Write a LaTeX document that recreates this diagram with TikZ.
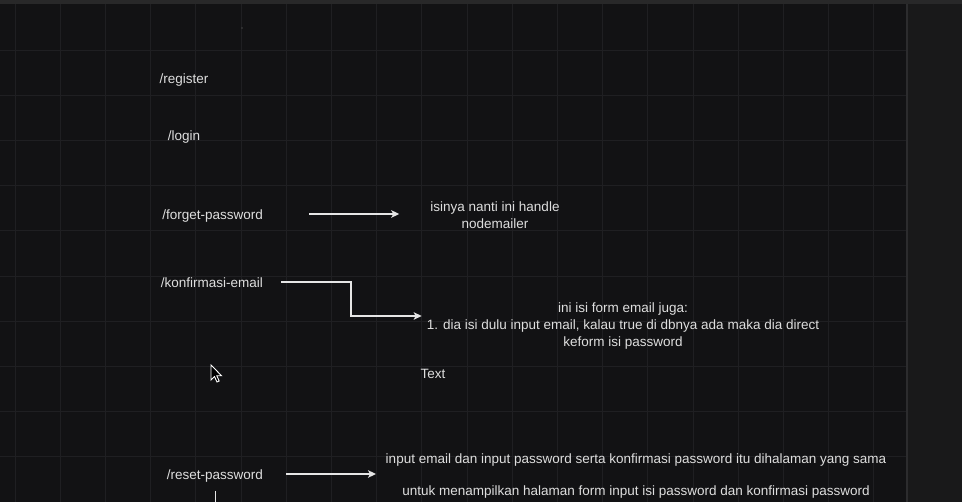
\documentclass[tikz,border=0pt]{standalone}
\usepackage{fontspec}
\setmainfont{Liberation Sans}
\usetikzlibrary{arrows.meta}
\definecolor{bg}{HTML}{121214}
\definecolor{topband}{HTML}{282829}
\definecolor{panel}{HTML}{19191A}
\definecolor{panelline}{HTML}{2C2C2E}
\definecolor{gridc}{HTML}{1F1F22}
\definecolor{txt}{HTML}{DEDEDE}
\definecolor{linec}{HTML}{E6E6E6}
\tikzset{
  lbl/.style={inner sep=0pt, text=txt, font=\fontsize{13.5}{16}\selectfont, text height=11.6pt, text depth=0.9pt},
  note/.style={inner sep=0pt, text=txt, font=\fontsize{13.5}{17}\selectfont, align=center},
  conn/.style={draw=linec, line width=1.4pt},
  arr/.style={conn, -{Stealth[length=8pt,width=7.5pt,inset=2pt]}},
  gridline/.style={draw=gridc, line width=0.9pt}
}
\begin{document}
\begin{tikzpicture}[x=1pt,y=-1pt]
\useasboundingbox (0,0) rectangle (962,502);
% background
\fill[bg] (0,0) rectangle (962,502);
\fill[topband] (0,0) rectangle (962,4.5);
\fill[panel] (907,4.5) rectangle (962,502);
% grid
\foreach \k in {0,...,19} {
  \draw[gridline] ({15+45.2*\k},4.5) -- ({15+45.2*\k},502);
}
\foreach \k in {0,...,10} {
  \draw[gridline] (0,{50+45.2*\k}) -- (906,{50+45.2*\k});
}
\draw[panelline, line width=1.6pt] (907,4.5) -- (907,502);
\fill[gray!45!bg] (242,28) circle (0.9);

% labels
\node[lbl] (reg) at (184,78) {/register};
\node[lbl] (login) at (184,135) {/login};
\node[lbl, anchor=east] (forget) at (263,214) {/forget-password};
\node[lbl, anchor=east] (konf) at (263,282) {/konfirmasi-email};
\node[lbl, anchor=east] (reset) at (263,474) {/reset-password};

\node[note] (forgetnote) at (495,215) {isinya nanti ini handle\\nodemailer};
\node[note] (konfnote) at (623,326) {ini isi form email juga:\\1. dia isi dulu input email, kalau true di dbnya ada maka dia direct\\keform isi password};
\node[lbl] (textnode) at (433,373) {Text};
\node[lbl] (resetnote1) at (636,458) {input email dan input password serta konfirmasi password itu dihalaman yang sama};
\node[lbl] (resetnote2) at (636,490) {untuk menampilkan halaman form input isi password dan konfirmasi password};

% connectors
\draw[arr] ([xshift=46pt]forget.east) -- ([xshift=-31pt,yshift=1pt]forgetnote.west);
\draw[arr] ([xshift=18pt]konf.east) -- ++(70pt,0) |- ([xshift=-5pt,yshift=10pt]konfnote.west);
\draw[arr] ([xshift=23pt]reset.east) -- ++(90pt,0);
\coordinate (resetdown) at ([xshift=1pt,yshift=-17pt]reset.center);
\draw[conn] (resetdown) -- ++(0,-14pt);

% mouse cursor
\begin{scope}[shift={(211,365)}]
\filldraw[fill=black, draw=white, line width=0.9pt, line join=miter]
  (0,0) -- (0,15) -- (3.5,11.6) -- (6,17) -- (8.2,16) -- (5.8,10.8) -- (10.6,10.8) -- cycle;
\end{scope}
\end{tikzpicture}
\end{document}
